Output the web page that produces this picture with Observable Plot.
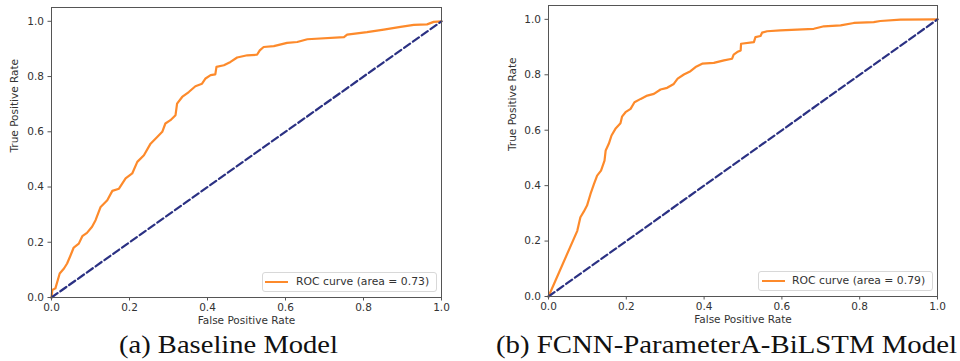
<!DOCTYPE html>
<html>
<head>
<meta charset="utf-8">
<script src="https://cdn.jsdelivr.net/npm/d3@7"></script>
<script src="https://cdn.jsdelivr.net/npm/@observablehq/plot@0.6"></script>
<style>
  html, body { margin: 0; padding: 0; background: #fff; }
  #root { position: relative; width: 960px; height: 361px; overflow: hidden; font-family: "DejaVu Sans", sans-serif; }
  .panel { position: absolute; top: 0; }
  .legend { position: absolute; box-sizing: border-box; border: 1px solid #d8d8d8; border-radius: 3px; background: rgba(255,255,255,0.9); font-family: "DejaVu Sans", sans-serif; font-size: 10.8px; color: #333; white-space: nowrap; }
  .legend .sw { position: absolute; top: 50%; height: 2px; margin-top: -1px; background: #fd8a2b; }
  .legend .tx { position: absolute; top: 50%; transform: translateY(-52%); }
  svg.caps { position: absolute; left: 0; top: 0; }
</style>
</head>
<body>
<div id="root"></div>
<script>
// ---- data ----
const xTicks = [0, 0.2, 0.4, 0.6, 0.8, 1.0];
const yTicks = [0, 0.2, 0.4, 0.6, 0.8, 1.0];
const chanceLine = [[0, 0], [1, 1]];

const baselineFpr = [0, 0.002, 0.01, 0.021, 0.032, 0.04, 0.049, 0.057, 0.07, 0.079, 0.091, 0.104, 0.113, 0.126, 0.143, 0.156, 0.173, 0.19, 0.207, 0.22, 0.237, 0.254, 0.271, 0.284, 0.292, 0.305, 0.318, 0.322, 0.335, 0.352, 0.369, 0.386, 0.395, 0.408, 0.42, 0.423, 0.442, 0.459, 0.476, 0.502, 0.527, 0.534, 0.544, 0.57, 0.604, 0.63, 0.656, 0.75, 0.758, 0.809, 0.852, 0.895, 0.929, 0.963, 0.98, 1.0];
const baselineTpr = [0, 0.027, 0.033, 0.087, 0.105, 0.123, 0.153, 0.181, 0.195, 0.222, 0.234, 0.256, 0.28, 0.328, 0.352, 0.386, 0.394, 0.431, 0.449, 0.491, 0.515, 0.557, 0.581, 0.6, 0.63, 0.642, 0.66, 0.702, 0.726, 0.744, 0.765, 0.774, 0.793, 0.805, 0.808, 0.835, 0.841, 0.853, 0.869, 0.877, 0.879, 0.895, 0.907, 0.91, 0.922, 0.925, 0.935, 0.943, 0.952, 0.961, 0.97, 0.98, 0.987, 0.989, 0.998, 1.0];

const fcnnFpr = [0, 0.074, 0.082, 0.091, 0.099, 0.108, 0.117, 0.125, 0.135, 0.144, 0.147, 0.155, 0.162, 0.172, 0.185, 0.189, 0.198, 0.211, 0.221, 0.237, 0.254, 0.271, 0.288, 0.305, 0.322, 0.332, 0.348, 0.365, 0.378, 0.395, 0.425, 0.451, 0.472, 0.476, 0.485, 0.494, 0.495, 0.528, 0.532, 0.545, 0.549, 0.562, 0.596, 0.682, 0.708, 0.751, 0.785, 0.836, 0.853, 0.905, 1.0];
const fcnnTpr = [0, 0.237, 0.286, 0.307, 0.328, 0.37, 0.406, 0.436, 0.454, 0.49, 0.527, 0.551, 0.581, 0.605, 0.625, 0.649, 0.665, 0.677, 0.701, 0.713, 0.725, 0.731, 0.747, 0.753, 0.767, 0.786, 0.801, 0.813, 0.828, 0.84, 0.843, 0.852, 0.858, 0.873, 0.882, 0.888, 0.912, 0.918, 0.936, 0.94, 0.952, 0.957, 0.96, 0.966, 0.975, 0.978, 0.987, 0.99, 0.994, 0.999, 1.0];

const panels = [
  {left: 0, fpr: baselineFpr, tpr: baselineTpr, legend: "ROC curve (area = 0.73)", caption: "(a) Baseline Model",
   m: {l: 51, r: 39, t: 7, b: 35}, leg: {x: 262, y: 272, w: 175, h: 20, s0: 265, s1: 288, tx: 296}, cap: {cx: 228.5, w: 219}, ylab: -37},
  {left: 480, fpr: fcnnFpr, tpr: fcnnTpr, legend: "ROC curve (area = 0.79)", caption: "(b) FCNN-ParameterA-BiLSTM Model",
   m: {l: 68, r: 23, t: 5, b: 36}, leg: {x: 758, y: 271, w: 175, h: 20, s0: 762, s1: 785, tx: 792}, cap: {cx: 726.5, w: 461}, ylab: -36}
];

const root = document.getElementById("root");

for (const p of panels) {
  const pts = p.fpr.map((x, i) => ({x, y: p.tpr[i]}));
  const chart = Plot.plot({
    width: 480,
    height: 332,
    marginLeft: p.m.l, marginRight: p.m.r, marginTop: p.m.t, marginBottom: p.m.b,
    style: {fontFamily: "DejaVu Sans", fontSize: "10.5px", color: "#333", background: "transparent", overflow: "visible"},
    x: {domain: [0, 1]},
    y: {domain: [0, 1.05]},
    marks: [
      Plot.line(pts, {x: "x", y: "y", stroke: "#fd8a2b", strokeWidth: 2.2}),
      Plot.line(chanceLine, {x: d => d[0], y: d => d[1], stroke: "#2b3183", strokeWidth: 2.2, strokeDasharray: "7.4,3.4"}),
      Plot.frame({stroke: "#555", strokeWidth: 1}),
      Plot.axisX({ticks: xTicks, tickFormat: d3.format(".1f"), tickSize: 3.5, tickPadding: 3, label: null, stroke: "#555", fill: "#333", fontSize: 10.5}),
      Plot.axisY({ticks: yTicks, tickFormat: d3.format(".1f"), tickSize: 3.5, tickPadding: 4, label: null, stroke: "#555", fill: "#333", fontSize: 10.5}),
      Plot.text(["False Positive Rate"], {text: d => d, frameAnchor: "bottom", dy: 26, fill: "#333", fontSize: 10.5}),
      Plot.text(["True Positive Rate"], {text: d => d, frameAnchor: "left", dx: p.ylab, rotate: -90, fill: "#333", fontSize: 10.5})
    ]
  });
  chart.classList.add("panel");
  chart.style.left = p.left + "px";
  root.appendChild(chart);

  const lg = document.createElement("div");
  lg.className = "legend";
  lg.style.left = p.leg.x + "px";
  lg.style.top = p.leg.y + "px";
  lg.style.width = p.leg.w + "px";
  lg.style.height = p.leg.h + "px";
  const sw = document.createElement("div");
  sw.className = "sw";
  sw.style.left = (p.leg.s0 - p.leg.x - 1) + "px";
  sw.style.width = (p.leg.s1 - p.leg.s0) + "px";
  const tx = document.createElement("div");
  tx.className = "tx";
  tx.style.left = (p.leg.tx - p.leg.x - 1) + "px";
  tx.textContent = p.legend;
  lg.appendChild(sw); lg.appendChild(tx);
  root.appendChild(lg);
}

// captions
const ns = "http://www.w3.org/2000/svg";
const caps = document.createElementNS(ns, "svg");
caps.setAttribute("class", "caps");
caps.setAttribute("width", 960);
caps.setAttribute("height", 361);
for (const p of panels) {
  const t = document.createElementNS(ns, "text");
  t.setAttribute("x", p.cap.cx);
  t.setAttribute("y", 353);
  t.setAttribute("text-anchor", "middle");
  t.setAttribute("font-family", "Liberation Serif, DejaVu Serif, serif");
  t.setAttribute("font-size", 25);
  t.setAttribute("fill", "#111");
  t.setAttribute("textLength", p.cap.w);
  t.setAttribute("lengthAdjust", "spacingAndGlyphs");
  t.textContent = p.caption;
  caps.appendChild(t);
}
root.appendChild(caps);
</script>
</body>
</html>
